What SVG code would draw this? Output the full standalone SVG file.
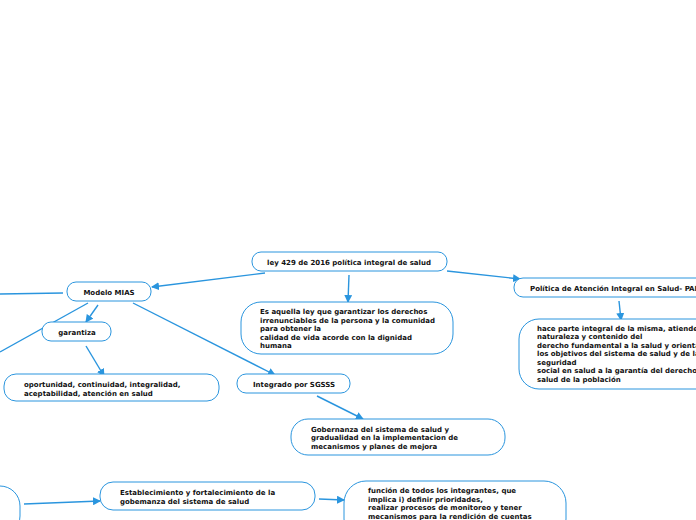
<svg xmlns="http://www.w3.org/2000/svg" width="696" height="520" viewBox="0 0 696 520">
<defs>
<marker id="ah" markerWidth="8" markerHeight="8" refX="7" refY="4" orient="auto" markerUnits="userSpaceOnUse">
<path d="M0,0 L8,4 L0,8 Z" fill="#2a95de"/>
</marker>
<style>
.n{fill:#fff;stroke:#2a95de;stroke-width:1}
.c{fill:none;stroke:#2a95de;stroke-width:1.4}
.a{marker-end:url(#ah)}
text{font-family:"DejaVu Sans",Verdana,sans-serif;font-weight:bold;font-size:7px;fill:#111}
</style>
</defs>
<rect width="696" height="520" fill="#fff"/>
<g id="connectors">
<line class="c a" x1="265" y1="273" x2="152" y2="287"/>
<line class="c a" x1="349" y1="275" x2="348" y2="302"/>
<line class="c a" x1="447" y1="271" x2="520" y2="279"/>
<line class="c a" x1="619" y1="301" x2="621" y2="320"/>
<line class="c" x1="0" y1="294" x2="63" y2="293"/>
<line class="c a" x1="98" y1="305" x2="86" y2="322"/>
<line class="c" x1="88" y1="303" x2="0" y2="352"/>
<line class="c a" x1="133" y1="303" x2="275" y2="375"/>
<line class="c a" x1="86" y1="346" x2="104" y2="376"/>
<line class="c a" x1="317" y1="396" x2="363" y2="419"/>
<line class="c a" x1="24" y1="504" x2="100" y2="501"/>
<line class="c a" x1="319" y1="499" x2="344" y2="500"/>
</g>
<g id="ley">
<rect class="n" x="252" y="252" width="195" height="19" rx="9"/>
<text x="349" y="264.5" text-anchor="middle">ley 429 de 2016 política integral de salud</text>
</g>
<g id="esaquella">
<rect class="n" x="241" y="302" width="212" height="52" rx="20"/>
<text x="260" y="314">Es aquella ley que garantizar los derechos</text>
<text x="260" y="322.5">irrenunciables de la persona y la comunidad</text>
<text x="260" y="331">para obtener la</text>
<text x="260" y="339.5">calidad de vida acorde con la dignidad</text>
<text x="260" y="348">humana</text>
</g>
<g id="politica">
<rect class="n" x="514" y="278" width="200" height="19" rx="9"/>
<text x="530" y="290.5">Política de Atención Integral en Salud- PAIS</text>
</g>
<g id="haceparte">
<rect class="n" x="519" y="319" width="200" height="70" rx="20"/>
<text x="537" y="330.5">hace parte integral de la misma, atiende la</text>
<text x="537" y="339">naturaleza y contenido del</text>
<text x="537" y="347.5">derecho fundamental a la salud y orienta</text>
<text x="537" y="356">los objetivos del sistema de salud y de la</text>
<text x="537" y="364.5">seguridad</text>
<text x="537" y="373">social en salud a la garantía del derecho a la</text>
<text x="537" y="381.5">salud de la población</text>
</g>
<g id="modelo">
<rect class="n" x="67" y="282" width="84" height="19" rx="9"/>
<text x="109" y="294.5" text-anchor="middle">Modelo MIAS</text>
</g>
<g id="garantiza">
<rect class="n" x="42" y="322" width="69" height="19" rx="9"/>
<text x="77" y="334.5" text-anchor="middle">garantiza</text>
</g>
<g id="oportunidad">
<rect class="n" x="4" y="374" width="215" height="27" rx="12"/>
<text x="24" y="387">oportunidad, continuidad, integralidad,</text>
<text x="24" y="395.5">aceptabilidad, atención en salud</text>
</g>
<g id="integrado">
<rect class="n" x="237" y="374" width="113" height="19" rx="9"/>
<text x="253" y="386.5">Integrado por SGSSS</text>
</g>
<g id="gobernanza">
<rect class="n" x="291" y="419" width="214" height="36" rx="17"/>
<text x="311" y="431.5">Gobernanza del sistema de salud y</text>
<text x="311" y="440">gradualidad en la implementacion de</text>
<text x="311" y="448.5">mecanismos y planes de mejora</text>
</g>
<g id="leftnode">
<rect class="n" x="-200" y="486" width="220" height="50" rx="20"/>
</g>
<g id="establecimiento">
<rect class="n" x="100" y="482" width="215" height="28" rx="13"/>
<text x="120" y="495">Establecimiento y fortalecimiento de la</text>
<text x="120" y="503.5">gobemanza del sistema de salud</text>
</g>
<g id="funcion">
<rect class="n" x="344" y="481" width="222" height="60" rx="22"/>
<text x="368" y="493">función de todos los integrantes, que</text>
<text x="368" y="501.5">implica i) definir prioridades,</text>
<text x="368" y="510">realizar procesos de monitoreo y tener</text>
<text x="368" y="518.5">mecanismos para la rendición de cuentas</text>
</g>
</svg>
